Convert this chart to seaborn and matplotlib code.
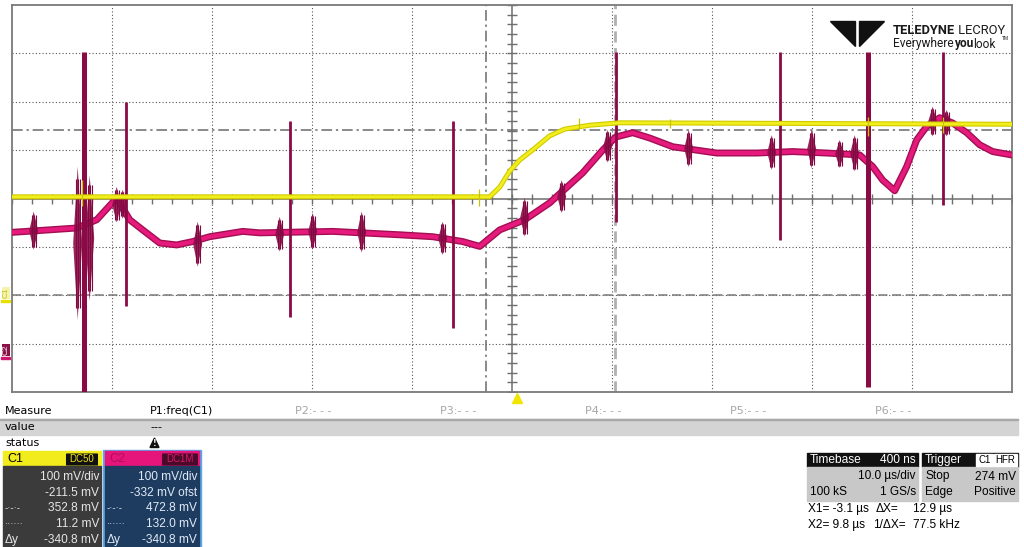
import numpy as np
import pandas as pd
import matplotlib
matplotlib.use("Agg")
import matplotlib.pyplot as plt
from matplotlib.patches import Rectangle, Polygon, FancyBboxPatch
import seaborn as sns

W, H = 1024, 547

# scope settings (from the info boxes)
C1_VDIV, C1_OFST = 100.0, -211.5
C2_VDIV, C2_OFST = 100.0, -332.0
T_DIV = 10.0
T_LEFT = -50.47          # trigger point sits a bit right of screen centre
CUR_X1, CUR_X2 = -3.1, 9.8
CUR_Y1, CUR_Y2 = 352.8, 11.2   # C1 mV

# C1 (yellow) trace: time in us, level in mV
c1_t = [-50.5, -2.7, -1.7, -0.7, 0.3, 1.6, 3.3, 4.8, 7.3, 10.3, 49.5]
c1_mv = [215, 215, 235, 268, 291, 312, 341, 355, 363, 368, 365]
# small glitches on C1
c1_gl_t = [-43.5, -3.8, 6.2, 15.3, 35.1, 42.6]
c1_gl_hi = [250, 232, 378, 376, 380, 380]
c1_gl_lo = [196, 196, 356, 358, 340, 346]

# C2 (magenta) trace: time in us, level in mV
c2_t = [-50.5, -48.3, -44.0, -42.0, -40.0, -38.7, -37.4, -35.7, -34.0, -32.4,
        -30.7, -27.4, -25.7, -18.4, -11.7, -8.4, -5.4, -3.7, -1.7, 0.8,
        3.3, 6.6, 8.6, 9.9, 11.6, 13.3, 15.6, 20.0, 24.0, 27.6,
        31.0, 34.3, 35.6, 36.6, 37.8, 39.0, 40.0, 41.0, 42.3, 43.6,
        45.0, 46.3, 47.6, 49.5]
c2_mv = [262, 265, 271, 288, 333, 288, 267, 240, 236, 243,
         253, 264, 261, 264, 257, 253, 243, 233, 267, 288,
         323, 385, 432, 459, 468, 457, 439, 426, 426, 429,
         426, 422, 398, 370, 348, 398, 453, 481, 499, 488,
         468, 443, 429, 422]

# switching spikes on C2
spike_t = [-43.3, -39.1, -22.7, -6.4, 9.9, 26.3, 35.1, 42.6]
spike_hi = [635, 532, 493, 493, 635, 635, 635, 635]
spike_lo = [-68, 109, 88, 65, 284, 246, -57, 319]

# ringing bursts on C2
burst_t = [-48.3, -43.9, -42.7, -40.0, -39.4, -31.9, -23.7, -20.4, -15.5, -7.4,
           0.8, 4.5, 9.1, 17.2, 25.5, 29.5, 32.3, 33.8, 41.6, 43.0]
burst_hi = [305, 398, 380, 356, 350, 284, 294, 302, 305, 284,
            333, 370, 474, 474, 463, 474, 453, 463, 522, 515]
burst_lo = [226, 81, 120, 282, 290, 191, 222, 226, 220, 215,
            253, 302, 406, 397, 391, 395, 395, 388, 460, 460]


def c1_div(v):
    return (np.asarray(v, float) + C1_OFST) / C1_VDIV


def c2_div(v):
    return (np.asarray(v, float) + C2_OFST) / C2_VDIV


def fx(x):
    return x / W


def fy(y):
    return 1 - y / H


sns.set_style("white")
plt.rcParams['font.family'] = ['Liberation Sans', 'DejaVu Sans']

fig = plt.figure(figsize=(W / 100, H / 100), dpi=100, facecolor='white')
ax = fig.add_axes([fx(12), fy(392), (1012 - 12) / W, (392 - 5) / H])
ax.set_xlim(T_LEFT, T_LEFT + 10 * T_DIV)
ax.set_ylim(-4, 4)
ax.set_xticks([])
ax.set_yticks([])
for s in ax.spines.values():
    s.set_color('#7a7a7a')
    s.set_linewidth(1.3)

# graticule
for k in range(1, 10):
    xv = T_LEFT + k * T_DIV
    if k == 5:
        ax.axvline(xv, color='#6e6e6e', lw=1.1, zorder=1)
    else:
        ax.axvline(xv, color='#555555', lw=0.8, ls=(0, (1, 2)), zorder=1)
for k in range(-3, 4):
    if k == 0:
        ax.axhline(0, color='#6e6e6e', lw=1.1, zorder=1)
    else:
        ax.axhline(k, color='#555555', lw=0.8, ls=(0, (1, 2)), zorder=1)
tick_x = T_LEFT + np.arange(0, 51) * T_DIV / 5
tick_y = -4 + np.arange(0, 41) * 0.2
ax.plot(tick_x, np.zeros_like(tick_x), ls='none', marker='|', ms=7, mew=1, color='#6e6e6e', zorder=1)
ax.plot(np.full_like(tick_y, T_LEFT + 5 * T_DIV), tick_y, ls='none', marker='_', ms=7, mew=1,
        color='#6e6e6e', zorder=1)

# cursors
ax.axhline(c1_div(CUR_Y1), color='#6a6a6a', lw=1.1, ls=(0, (7, 2.5, 1.5, 2.5)), zorder=2)
ax.axhline(c1_div(CUR_Y2), color='#7a7a7a', lw=1.1, ls=(0, (6, 3)), zorder=2)
ax.axvline(CUR_X1, color='#6a6a6a', lw=1.1, ls=(0, (7, 2.5, 1.5, 2.5)), zorder=2)
ax.axvline(CUR_X2, color='#b0b0b0', lw=2.0, ls=(0, (4, 2)), zorder=2)

# C2 trace
c2 = pd.DataFrame({'t': c2_t, 'v': c2_div(c2_mv)})
sns.lineplot(data=c2, x='t', y='v', ax=ax, color='#a30f52', lw=5, estimator=None, sort=False,
             legend=False, zorder=3)
sns.lineplot(data=c2, x='t', y='v', ax=ax, color='#e6197d', lw=3, estimator=None, sort=False,
             legend=False, zorder=4)

# bursts as narrow spindles around each ringing spot
for t, hi, lo in zip(burst_t, c2_div(burst_hi), c2_div(burst_lo)):
    mid = (hi + lo) / 2
    ax.fill([t - 0.45, t, t + 0.45, t], [mid, hi, mid, lo], color='#8e0c4a', alpha=0.9, lw=0, zorder=5)
    ax.vlines([t - 0.2, t, t + 0.2], lo + (hi - lo) * 0.08, hi - (hi - lo) * 0.08, color='#7e0a40',
              lw=0.8, zorder=5)

# spikes
for t, hi, lo in zip(spike_t, c2_div(spike_hi), c2_div(spike_lo)):
    ax.vlines(t, lo, hi, color='#8a0a46', lw=3.6 if hi - lo > 6 else 2.0, zorder=6)

# C1 trace
c1 = pd.DataFrame({'t': c1_t, 'v': c1_div(c1_mv)})
sns.lineplot(data=c1, x='t', y='v', ax=ax, color='#cfcb00', lw=3.6, estimator=None, sort=False,
             legend=False, zorder=7)
sns.lineplot(data=c1, x='t', y='v', ax=ax, color='#f2ee1e', lw=2.0, estimator=None, sort=False,
             legend=False, zorder=8)
ax.vlines(c1_gl_t, c1_div(c1_gl_lo), c1_div(c1_gl_hi), color='#c8c200', lw=0.9, zorder=8)

# trigger marker
ax.plot([0], [-4.13], marker='^', ms=7, color='#f2e600', clip_on=False, zorder=9)

# channel ground markers at left edge
fig.text(fx(6), fy(293), "C1", rotation=90, fontsize=6, color='#c8c000', ha='center', va='center',
         bbox=dict(boxstyle='square,pad=0.05', fc='#f4f4b0', ec='none'))
fig.add_artist(Rectangle((fx(1), fy(302)), 9 / W, 2 / H, transform=fig.transFigure, color='#e8e000'))
fig.text(fx(6), fy(350), "C2", rotation=90, fontsize=6, color='white', ha='center', va='center',
         bbox=dict(boxstyle='square,pad=0.05', fc='#8a1048', ec='none'))
fig.add_artist(Rectangle((fx(1), fy(359)), 9 / W, 2 / H, transform=fig.transFigure, color='#d0156e'))

renderer = fig.canvas.get_renderer()


def chain(x, y, parts, size):
    # lay text pieces side by side, each in its own weight
    for s, weight in parts:
        t = fig.text(fx(x), fy(y), s, fontsize=size, fontweight=weight, color='#1a1a1a',
                     va='center', family=['Roboto', 'DejaVu Sans'])
        x += t.get_window_extent(renderer=renderer).width


# logo
fig.add_artist(Polygon([(fx(830), fy(21)), (fx(855), fy(21)), (fx(855), fy(46))],
                       closed=True, transform=fig.transFigure, color='#111111'))
fig.add_artist(Polygon([(fx(884), fy(21)), (fx(859), fy(21)), (fx(859), fy(46))],
                       closed=True, transform=fig.transFigure, color='#111111'))
chain(893, 31, [("TELEDYNE", 'bold'), (" LECROY", 'normal')], 9.3)
chain(893, 44, [("Everywhere", 'normal'), ("you", 'bold'), ("look", 'normal')], 8.6)
fig.text(fx(1002), fy(39), "TM", fontsize=3.5, color='#1a1a1a', va='center')


def box(x0, y0, x1, y1, color, **kw):
    fig.add_artist(Rectangle((fx(x0), fy(y1)), (x1 - x0) / W, (y1 - y0) / H,
                             transform=fig.transFigure, color=color, **kw))


def txt(x, y, s, size=8.5, color='black', ha='left', **kw):
    fig.text(fx(x), fy(y), s, fontsize=size, color=color, ha=ha, va='center', **kw)


# measure table
ui = ['DejaVu Sans']
box(0, 419, 1018, 435, '#d4d4d4')
box(0, 418.5, 1018, 420, '#a8a8a8')
txt(5, 411, "Measure", 8, family=ui)
txt(150, 411, "P1:freq(C1)", 8, family=ui)
for i, lab in enumerate(["P2:- - -", "P3:- - -", "P4:- - -", "P5:- - -", "P6:- - -"]):
    txt(295 + 145 * i, 411, lab, 8, color='#a6a6a6', family=ui)
txt(5, 427, "value", 8, family=ui)
txt(150, 427, "---", 8, family=ui)
txt(5, 443, "status", 8, family=ui)
# warning sign: black triangle with a white bang
fig.add_artist(Polygon([(fx(150), fy(447.5)), (fx(159), fy(447.5)), (fx(154.5), fy(438))],
                       closed=True, transform=fig.transFigure, color='#111111'))
txt(154.5, 444, "!", 5.5, color='white', ha='center', family=ui, fontweight='bold')

# channel boxes
rows = [477, 492.5, 508, 524, 540]
box(3, 451, 101, 466, '#f3ec1c')
box(3, 466, 101, 547, '#3b3b3b')
txt(7, 459, "C1", 9)
fig.add_artist(FancyBboxPatch((fx(67), fy(465)), 30 / W, 11 / H, boxstyle='round,pad=0.001',
                              transform=fig.transFigure, fc='#111111', ec='none'))
txt(82, 459.5, "DC50", 7, color='#f0e41c', ha='center')
for y, s in zip(rows, ["100 mV/div", "-211.5 mV", "352.8 mV", "11.2 mV", "-340.8 mV"]):
    txt(99, y, s, 8.6, color='#e6e6e6', ha='right')
txt(5, 508, "-·-·-", 7, color='#dddddd')
txt(5, 524, "······", 7, color='#dddddd')
txt(5, 540, "Δy", 8.6, color='#e6e6e6')

box(103, 450, 201, 547, '#5ea6e6')
box(105, 451, 199, 466, '#e5157c')
box(105, 466, 199, 545.5, '#1e3c60')
txt(109, 459, "C2", 9, color='#b20e58')
fig.add_artist(FancyBboxPatch((fx(163), fy(465)), 34 / W, 11 / H, boxstyle='round,pad=0.001',
                              transform=fig.transFigure, fc='#4a0a28', ec='none'))
txt(180, 459.5, "DC1M", 7, color='#e0156f', ha='center')
for y, s in zip(rows, ["100 mV/div", "-332 mV ofst", "472.8 mV", "132.0 mV", "-340.8 mV"]):
    txt(197, y, s, 8.6, color='#e0eaf6', ha='right')
txt(107, 508, "-·-·-", 7, color='#dde6f2')
txt(107, 524, "······", 7, color='#dde6f2')
txt(107, 540, "Δy", 8.6, color='#e0eaf6')

# timebase / trigger boxes
box(807, 453, 918, 467, '#111111')
box(807, 467, 918, 501, '#c8c8c8')
txt(810, 460, "Timebase", 8.6, color='white')
txt(916, 460, "400 ns", 8.6, color='white', ha='right')
txt(916, 476.5, "10.0 µs/div", 8.6, ha='right')
txt(810, 492, "100 kS", 8.6)
txt(916, 492, "1 GS/s", 8.6, ha='right')

box(922, 453, 1018, 467, '#111111')
box(922, 467, 1018, 501, '#c8c8c8')
txt(925, 460, "Trigger", 8.6, color='white')
box(976, 454, 993, 466, 'white')
box(994, 454, 1017, 466, 'white')
txt(984.5, 460, "C1", 7, ha='center')
txt(1005.5, 460, "HFR", 7, ha='center')
txt(925, 476.5, "Stop", 8.6)
txt(1016, 476.5, "274 mV", 8.6, ha='right')
txt(925, 492, "Edge", 8.6)
txt(1016, 492, "Positive", 8.6, ha='right')

txt(808, 509, "X1= -3.1 µs", 8.6)
txt(876, 509, "ΔX=", 8.6)
txt(913, 509, "12.9 µs", 8.6)
txt(808, 525, "X2= 9.8 µs", 8.6)
txt(873, 525, "1/ΔX=", 8.6)
txt(913, 525, "77.5 kHz", 8.6)

fig.savefig("out.png", dpi=100, facecolor='white')
